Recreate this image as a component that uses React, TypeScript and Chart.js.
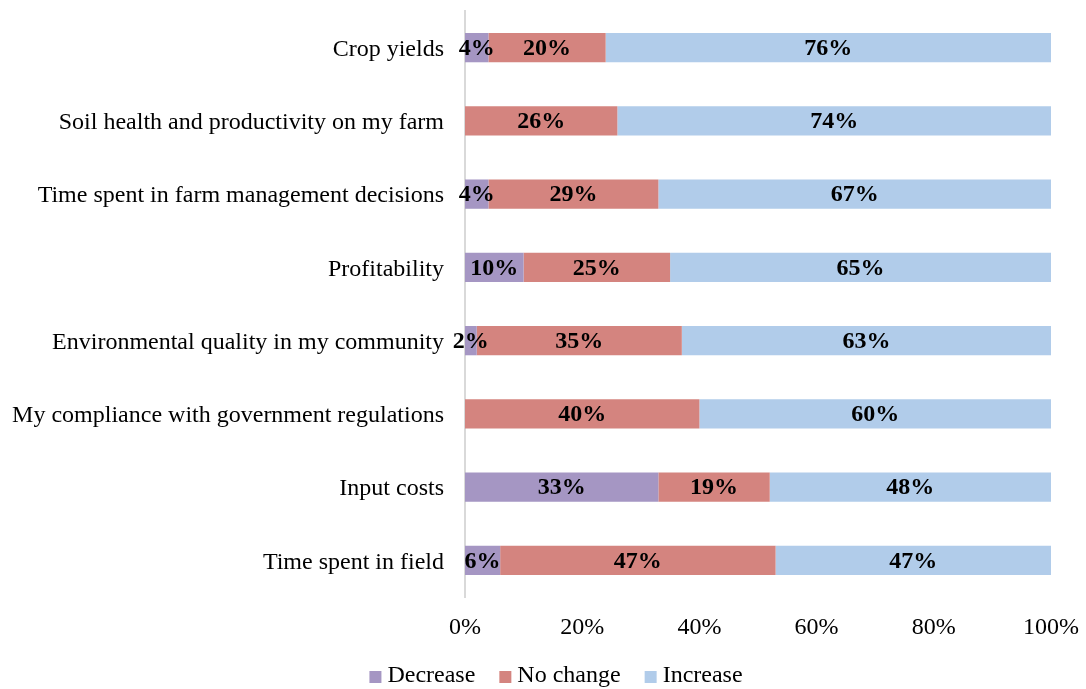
import React, { useEffect, useRef } from "react";
import { Chart, registerables } from "chart.js";

Chart.register(...registerables);

const categories = [
  "Crop yields",
  "Soil health and productivity on my farm",
  "Time spent in farm management decisions",
  "Profitability",
  "Environmental quality in my community",
  "My compliance with government regulations",
  "Input costs",
  "Time spent in field",
];

const decrease = [4, 0, 4, 10, 2, 0, 33, 6];
const noChange = [20, 26, 29, 25, 35, 40, 19, 47];
const increase = [76, 74, 67, 65, 63, 60, 48, 47];

const seriesNames = ["Decrease", "No change", "Increase"];
const seriesColors = ["#A596C3", "#D4847F", "#B1CCEA"];

const xTicks = [0, 20, 40, 60, 80, 100];

const FONT = "'Liberation Serif', 'Times New Roman', serif";

// Writes each segment's percentage in bold at its centre
const segmentLabels = {
  id: "segmentLabels",
  afterDatasetsDraw(chart: any) {
    const { ctx } = chart;
    ctx.save();
    ctx.font = `bold 24px ${FONT}`;
    ctx.fillStyle = "#000";
    ctx.textAlign = "center";
    ctx.textBaseline = "middle";
    chart.data.datasets.forEach((ds: any, di: number) => {
      const meta = chart.getDatasetMeta(di);
      meta.data.forEach((bar: any, i: number) => {
        const v = ds.data[i];
        if (!v) return;
        const { x, base, y } = bar.getProps(["x", "base", "y"], true);
        ctx.fillText(`${v}%`, (x + base) / 2, y + 1);
      });
    });
    ctx.restore();
  },
};

// Legend row beneath the axis: small square swatch followed by the series name
const bottomLegend = {
  id: "bottomLegend",
  afterDraw(chart: any) {
    const { ctx } = chart;
    ctx.save();
    ctx.font = `24px ${FONT}`;
    const box = 12;
    const gapText = 6;
    const gapItem = 24;
    const widths = seriesNames.map((n) => ctx.measureText(n).width);
    const total =
      widths.reduce((a, w) => a + box + gapText + w, 0) + gapItem * (seriesNames.length - 1);
    let x = 556 - total / 2;
    const cy = 676;
    ctx.textAlign = "left";
    ctx.textBaseline = "middle";
    seriesNames.forEach((n, i) => {
      ctx.fillStyle = seriesColors[i];
      ctx.fillRect(x, cy - box / 2 + 1, box, box);
      x += box + gapText;
      ctx.fillStyle = "#000";
      ctx.fillText(n, x, cy);
      x += widths[i] + gapItem;
    });
    ctx.restore();
  },
};

export default function App() {
  const ref = useRef<HTMLCanvasElement | null>(null);

  useEffect(() => {
    if (!ref.current) return;
    const chart = new Chart(ref.current, {
      type: "bar",
      data: {
        labels: categories,
        datasets: [decrease, noChange, increase].map((d, i) => ({
          label: seriesNames[i],
          data: d,
          backgroundColor: seriesColors[i],
          borderWidth: 0,
          barPercentage: 0.4,
          categoryPercentage: 1,
        })),
      },
      options: {
        indexAxis: "y",
        responsive: false,
        animation: false,
        layout: { padding: { top: 11, right: 35, left: 0, bottom: 0 } },
        plugins: {
          legend: { display: false },
          tooltip: { enabled: false },
        },
        scales: {
          x: {
            stacked: true,
            min: 0,
            max: 100,
            afterBuildTicks: (scale: any) => {
              scale.ticks = xTicks.map((v) => ({ value: v }));
            },
            afterFit: (scale: any) => {
              scale.height = 92;
              scale.paddingLeft = 0;
              scale.paddingRight = 0;
            },
            grid: { display: false, drawTicks: false },
            border: { display: false },
            ticks: {
              padding: 16,
              color: "#000",
              font: { family: FONT, size: 24 },
              callback: (v: any) => `${v}%`,
              maxRotation: 0,
            },
          },
          y: {
            stacked: true,
            afterFit: (scale: any) => {
              scale.width = 465;
              scale.paddingTop = 0;
              scale.paddingBottom = 0;
            },
            grid: { display: false, drawTicks: false },
            border: { display: true, color: "#D9D9D9", width: 2 },
            ticks: {
              padding: 21,
              labelOffset: 2,
              color: "#000",
              font: { family: FONT, size: 24 },
              autoSkip: false,
            },
          },
        },
      },
      plugins: [segmentLabels, bottomLegend],
    });
    return () => chart.destroy();
  }, []);

  return (
    <div style={{ position: "absolute", left: 0, top: 0, width: 1086, height: 689, background: "#fff" }}>
      <canvas ref={ref} width={1086} height={689} />
    </div>
  );
}
